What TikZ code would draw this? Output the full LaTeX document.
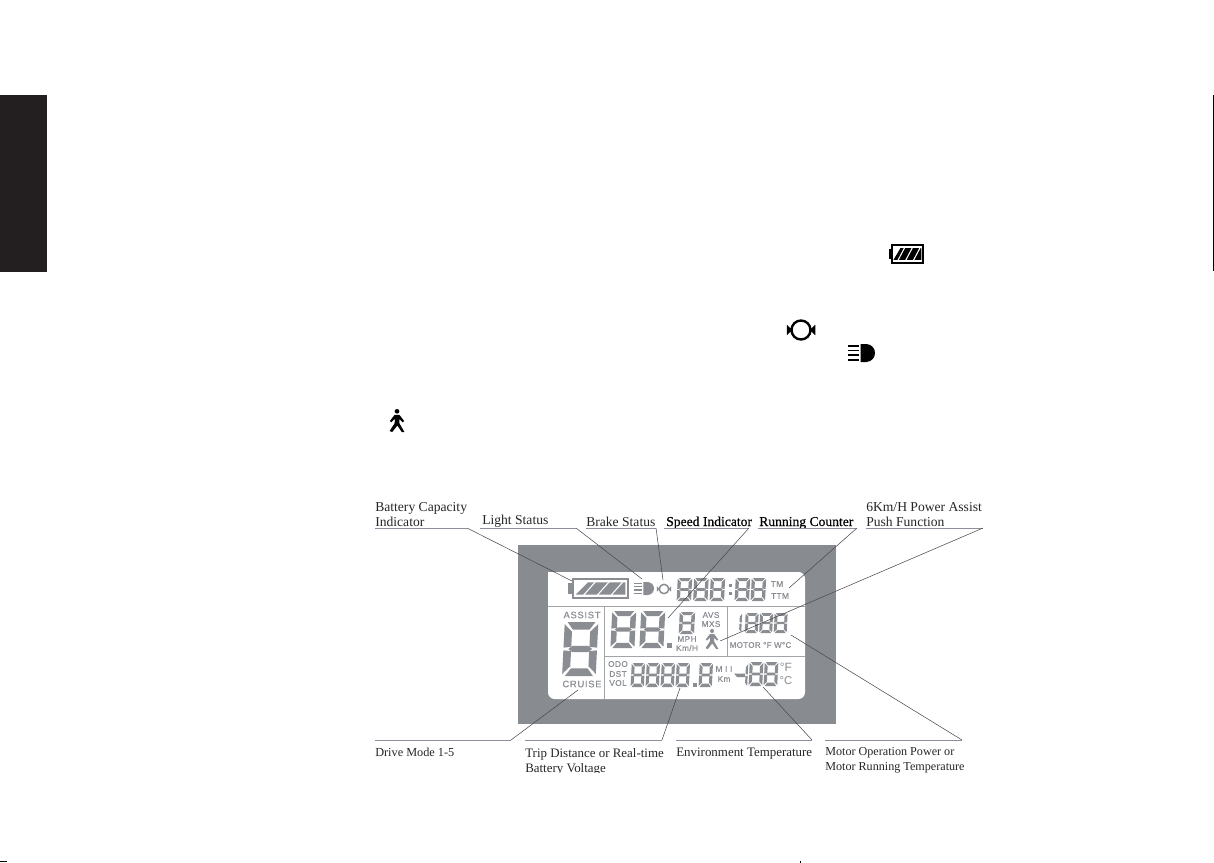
\documentclass[tikz,border=0pt]{standalone}
\usepackage{fontspec}
\setmainfont{Liberation Serif}
\setsansfont{Liberation Sans}
\definecolor{lcd}{HTML}{8A8D92}
\definecolor{panel}{HTML}{888B90}
\definecolor{inkbox}{HTML}{231F20}
\definecolor{rulecol}{HTML}{8E8E9C}
\definecolor{leadcol}{HTML}{4A4A50}
\tikzset{
  lbl/.style={anchor=base west,inner sep=0pt,align=left,text=black!85,font=\fontsize{10.2}{11.2}\selectfont},
  lblb/.style={lbl,text=black,font=\fontsize{10.2}{11.2}\selectfont\addfontfeatures{FakeBold=0.6}},
  lcdt/.style={inner sep=0pt,text=lcd,font=\sffamily\fontsize{6.2}{7}\selectfont\addfontfeatures{LetterSpace=5,FakeBold=0.3}},
  lcdb/.style={inner sep=0pt,text=lcd,font=\sffamily\fontsize{7}{8}\selectfont\addfontfeatures{LetterSpace=8,FakeBold=0.3}},
  underl/.style={draw=rulecol,line width=0.55pt},
  leader/.style={draw=leadcol,line width=0.4pt},
  seg/.style={fill=lcd,draw=none},
}
% seven segment digit: left x, top y, width, height (px)
\newcommand{\segbars}[1]{%
 \foreach \s in {#1}{%
  \ifcase\s
   \fill[seg] (.10,0)--(.90,0)--(.74,.14)--(.26,.14)--cycle;\or
   \fill[seg] (.98,.04)--(.98,.475)--(.76,.46)--(.76,.18)--cycle;\or
   \fill[seg] (.98,.525)--(.98,.96)--(.76,.82)--(.76,.54)--cycle;\or
   \fill[seg] (.10,1)--(.90,1)--(.74,.86)--(.26,.86)--cycle;\or
   \fill[seg] (.02,.525)--(.02,.96)--(.24,.82)--(.24,.54)--cycle;\or
   \fill[seg] (.02,.04)--(.02,.475)--(.24,.46)--(.24,.18)--cycle;\or
   \fill[seg] (.16,.50)--(.28,.44)--(.72,.44)--(.84,.50)--(.72,.56)--(.28,.56)--cycle;\fi
 }}
\newcommand{\digit}[4]{\begin{scope}[shift={({#1+0.02*#4},#2)},cm={1,0,0.05,1,(0,0)},x={#3*0.75pt},y={-#4*0.75pt}]\segbars{0,1,2,3,4,5,6}\end{scope}}
\newcommand{\digitone}[4]{\begin{scope}[shift={({#1+0.02*#4},#2)},cm={1,0,0.05,1,(0,0)},x={#3*0.75pt},y={-#4*0.75pt}]\segbars{1,2}\end{scope}}
% battery: x, y, w, h, colour
\newcommand{\battery}[5]{\begin{scope}[shift={(#1,#2)},x={#3*0.75pt},y={-#4*0.75pt}]
 \draw[#5,line width=1.1pt] (0,0) rectangle (1,1);
 \fill[#5] (-.09,.22) rectangle (0,.78);
 \fill[#5] (.05,.82)--(.27,.18)--(.95,.18)--(.95,.82)--cycle;
 \foreach \a in {.30,.55,.80}{\draw[white,line width=.8pt] (\a-.11,.86)--(\a+.11,.14);}
 \end{scope}}
% head lamp: x, y, w, h, colour
\newcommand{\lamp}[5]{\begin{scope}[shift={(#1,#2)},x={#3*0.75pt},y={-#4*0.75pt}]
 \foreach \a in {.1,.36,.62,.88}{\fill[#5] (0,\a-.05) rectangle (.40,\a+.05);}
 \fill[#5] (.47,0)--(.68,0) .. controls (.88,.02) and (1,.25) .. (1,.5) .. controls (1,.75) and (.88,.98) .. (.68,1)--(.47,1)--cycle;
 \end{scope}}
% brake: centre x, y, radius, colour, line width
\newcommand{\brake}[5]{\begin{scope}[shift={(#1,#2)}]
 \draw[#4,line width=#5] (0,0) circle (#3);
 \fill[#4] ({-#3-.5*#3},{-.55*#3})--({-#3+.1*#3},0)--({-#3-.5*#3},{.55*#3})--cycle;
 \fill[#4] ({#3+.5*#3},{-.55*#3})--({#3-.1*#3},0)--({#3+.5*#3},{.55*#3})--cycle;
 \end{scope}}
% walker: centre x, top y, unit, colour
\newcommand{\walker}[4]{\begin{scope}[shift={(#1,#2)},x={#3*0.55pt},y={-#3*0.75pt}]
 \fill[#4] (0,.10) ellipse (.14 and .10);
 \fill[#4] (-.14,.25)--(.14,.25)--(.42,.52)--(.34,.58)--(.14,.44)--(.14,.62)--(.44,1)--(.28,1)--(.02,.72)--(-.28,1)--(-.44,.96)--(-.14,.62)--(-.12,.42)--(-.34,.58)--(-.42,.52)--cycle;
 \end{scope}}
\begin{document}
\begin{tikzpicture}[x=0.75pt,y=-0.75pt]
\useasboundingbox (0,0) rectangle (1214,863);
\fill[white] (0,0) rectangle (1214,863);
% side tab and margin marks
\fill[inkbox] (0,95) rectangle (47,272);
\draw[black,line width=0.5pt] (1213,95) -- (1213,271);
\draw[black,line width=0.6pt] (0,861.5) -- (7,861.5);
\draw[black,line width=0.5pt] (800,860.5) -- (800,863);
% icons in the page text
\battery{892}{245}{31}{18}{black}
\brake{801}{330}{9.5}{black}{1.8pt}
\lamp{848}{344}{27}{18}{black}
\walker{397}{409}{23}{black}
% LCD panel
\fill[panel] (518,545) rectangle (836,724);
\fill[white,rounded corners=5pt] (548,572) -- (805,572) -- (805,699) -- (548,699) -- cycle;
\fill[white] (548,572) rectangle (560,585);
\draw[lcd!80,line width=0.7pt] (548,606) -- (805,606);
\draw[lcd!80,line width=0.7pt] (604,606) -- (604,699);
\draw[lcd!80,line width=0.7pt] (604,656) -- (805,656);
\draw[lcd!80,line width=0.7pt] (727,606) -- (727,656);
% LCD contents
\battery{573}{579}{55}{19}{lcd}
\lamp{634}{582}{20}{13}{lcd}
\brake{664}{589}{4.7}{lcd}{1.1pt}
\foreach \x in {677,693.5,710}{\digit{\x}{578}{15}{23}}
\fill[lcd] (729,584) rectangle (732,587);
\fill[lcd] (729,592) rectangle (732,595);
\foreach \x in {735,751}{\digit{\x}{578}{15}{23}}
\node[lcdt] (tm) at (777,584) {TM};
\node[lcdt] (ttm) at (780,596) {TTM};
\node[lcdb] (assist) at (582,615) {ASSIST};
\digit{563}{622}{35}{54}
\node[lcdb] (cruise) at (582,684) {CRUISE};
\digit{611}{611}{25}{37}
\digit{640}{611}{25}{37}
\fill[lcd] (667,643) rectangle (671.5,647.5);
\digit{679}{612}{16}{22}
\node[lcdt] (avs) at (711,615) {AVS};
\node[lcdt] (mxs) at (711,624) {MXS};
\node[lcdt] (mph) at (687,639) {MPH};
\node[lcdt] (kmh) at (687,648) {Km/H};
\walker{712}{629}{20}{lcd}
\digitone{732}{613}{10}{20}
\foreach \x in {745,759.5,774}{\digit{\x}{613}{13.5}{20}}
\node[lcdt,font=\sffamily\fontsize{6}{7}\selectfont\addfontfeatures{LetterSpace=4,FakeBold=0.3}] (motor) at (760.5,645) {MOTOR °F W°C};
\node[lcdt] (odo) at (618,664) {ODO};
\node[lcdt] (dst) at (618,674) {DST};
\node[lcdt] (vol) at (618,683) {VOL};
\foreach \x in {631,646,661,676,699}{\digit{\x}{663}{13.8}{24}}
\fill[lcd] (693,683) rectangle (696.5,686.5);
\node[lcdt] (mii) at (724,669) {M I I};
\node[lcdt] (km) at (724,679) {Km};
\fill[lcd] (734,673.5) -- (745,673.5) -- (745,677) -- (737,677) -- cycle;
\digitone{738}{663}{10}{24}
\foreach \x in {749,764}{\digit{\x}{662}{14.2}{24}}
\node[lcdt,font=\sffamily\fontsize{9}{10}\selectfont] (degf) at (786,667) {°F};
\node[lcdt,font=\sffamily\fontsize{8.5}{10}\selectfont] (degc) at (786,681) {°C};
% labels
\node[lbl] (lBatt) at (375,526) {Battery Capacity\\Indicator};
\node[lbl] (lLight) at (482,524) {Light Status};
\node[lbl] (lBrake) at (586,526.5) {Brake Status};
\node[lblb] (lSpeed) at (666,526) {Speed Indicator};
\node[lblb] (lRun) at (759,526) {Running Counter};
\node[lbl] (lPush) at (866,526) {6Km/H Power Assist\\Push Function};
\node[lbl,font=\fontsize{9.2}{11}\selectfont] (lDrive) at (375,756) {Drive Mode 1-5};
\node[lbl,font=\fontsize{9.7}{11.2}\selectfont] (lTrip) at (525,772) {Trip Distance or Real-time\\Battery Voltage};
\node[lbl,font=\fontsize{9.7}{11.2}\selectfont] (lEnv) at (676,756) {Environment Temperature};
\node[lbl,font=\fontsize{9.1}{10.8}\selectfont] (lMotor) at (825,770) {Motor Operation Power or\\Motor Running Temperature};
\fill[white] (520,773) rectangle (640,780);
% connector points
\coordinate (bA) at (375,528); \coordinate (bB) at (467,528); \coordinate (bC) at (572,581);
\coordinate (lA) at (480,528); \coordinate (lB) at (576,528); \coordinate (lC) at (642,579);
\coordinate (kA) at (586,528); \coordinate (kB) at (656,528); \coordinate (kC) at (663,580);
\coordinate (sA) at (664,528); \coordinate (sB) at (749,528); \coordinate (sC) at (668,618);
\coordinate (rA) at (758,528); \coordinate (rB) at (857,528); \coordinate (rC) at (789,588);
\coordinate (pA) at (866,528); \coordinate (pB) at (983,528); \coordinate (pC) at (720,641);
\coordinate (dA) at (375,740); \coordinate (dB) at (511,740); \coordinate (dC) at (578,690);
\coordinate (tA) at (525,740); \coordinate (tB) at (662,740); \coordinate (tC) at (680,688);
\coordinate (eA) at (676,740); \coordinate (eB) at (812,740); \coordinate (eC) at (763,687);
\coordinate (mA) at (825,740); \coordinate (mB) at (962,740); \coordinate (mC) at (791,635);
\foreach \n in {b,l,k,s,r,p,d,t,e,m}{
  \draw[underl] (\n A) -- (\n B);
  \draw[leader] (\n B) -- (\n C);
}
\end{tikzpicture}
\end{document}
